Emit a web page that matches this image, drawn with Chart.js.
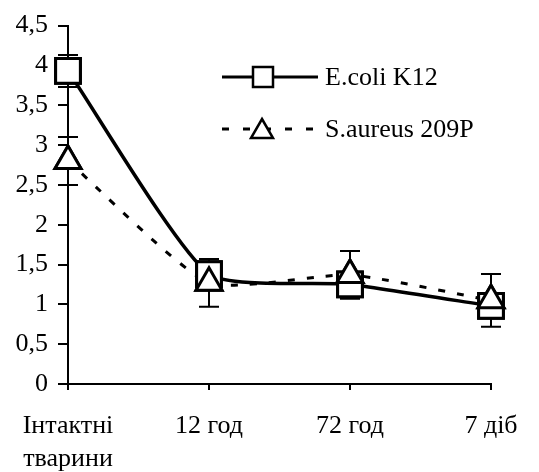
<!DOCTYPE html>
<html>
<head>
<meta charset="utf-8">
<script src="https://cdn.jsdelivr.net/npm/chart.js@4"></script>
<style>
  html, body { margin: 0; padding: 0; background: #fff; }
  #wrap { width: 539px; height: 472px; }
</style>
</head>
<body>
<div id="wrap"><canvas id="chart" width="539" height="472"></canvas></div>
<script>
const categories = [["Інтактні", "тварини"], "12 год", "72 год", "7 діб"];
const ecoliValues = [3.93, 1.38, 1.25, 0.98];
const ecoliErrors = [0.2, 0.12, 0.1, 0.1];
const aureusValues = [2.8, 1.27, 1.37, 1.05];
const aureusErrors = [0.3, 0.3, 0.3, 0.33];
const yTicks = [0, 0.5, 1, 1.5, 2, 2.5, 3, 3.5, 4, 4.5];

const FONT = "'Liberation Serif', 'Times New Roman', serif";

// error bars, then markers drawn again over them
const errorBars = {
    id: "errorBars",
    afterDatasetsDraw(chart) {
        const ctx = chart.ctx;
        const y = chart.scales.y;
        ctx.save();
        ctx.strokeStyle = "#000";
        ctx.lineWidth = 2;
        chart.data.datasets.forEach((ds, i) => {
            const meta = chart.getDatasetMeta(i);
            meta.data.forEach((pt, j) => {
                const v = ds.data[j], e = ds.errors[j];
                const top = y.getPixelForValue(v + e);
                const bot = y.getPixelForValue(v - e);
                ctx.beginPath();
                ctx.moveTo(pt.x, top); ctx.lineTo(pt.x, bot);
                ctx.moveTo(pt.x - 10, top); ctx.lineTo(pt.x + 10, top);
                ctx.moveTo(pt.x - 10, bot); ctx.lineTo(pt.x + 10, bot);
                ctx.stroke();
            });
        });
        ctx.restore();
        [0, 1].forEach(i => {
            const meta = chart.getDatasetMeta(i);
            meta.data.forEach(pt => pt.draw(ctx, undefined));
        });
    }
};

const legendBox = {
    id: "legendBox",
    afterDraw(chart) {
        const ctx = chart.ctx;
        ctx.save();
        ctx.strokeStyle = "#000";
        ctx.lineWidth = 3;
        // E.coli
        ctx.beginPath();
        ctx.moveTo(222, 77); ctx.lineTo(318, 77);
        ctx.stroke();
        ctx.fillStyle = "#fff";
        ctx.lineWidth = 2.5;
        ctx.fillRect(253, 67, 20, 20);
        ctx.strokeRect(253, 67, 20, 20);
        // S.aureus
        ctx.lineWidth = 3;
        ctx.setLineDash([7, 14]);
        ctx.beginPath();
        ctx.moveTo(222, 129); ctx.lineTo(318, 129);
        ctx.stroke();
        ctx.setLineDash([]);
        ctx.lineWidth = 2.5;
        ctx.beginPath();
        ctx.moveTo(262, 119); ctx.lineTo(273, 138); ctx.lineTo(251, 138); ctx.closePath();
        ctx.fill();
        ctx.stroke();
        ctx.fillStyle = "#000";
        ctx.font = "26px " + FONT;
        ctx.textBaseline = "middle";
        ctx.fillText("E.coli K12", 325, 78);
        ctx.fillText("S.aureus 209P", 325, 130);
        ctx.restore();
    }
};

function initChart() {
    const ctx = document.getElementById("chart");
    new Chart(ctx, {
        type: "line",
        data: {
            labels: categories,
            datasets: [
                {
                    label: "E.coli K12",
                    data: ecoliValues,
                    errors: ecoliErrors,
                    borderColor: "#000",
                    borderWidth: 3.5,
                    tension: 0.18,
                    pointStyle: "rect",
                    pointRadius: 17.5,
                    pointBackgroundColor: "#fff",
                    pointBorderColor: "#000",
                    pointBorderWidth: 3,
                    clip: false,
                    order: 1
                },
                {
                    label: "S.aureus 209P",
                    data: aureusValues,
                    errors: aureusErrors,
                    borderColor: "#000",
                    borderWidth: 3,
                    borderDash: [7, 12],
                    tension: 0.18,
                    pointStyle: "triangle",
                    pointRadius: 15,
                    pointBackgroundColor: "#fff",
                    pointBorderColor: "#000",
                    pointBorderWidth: 3,
                    clip: false,
                    order: 0
                }
            ]
        },
        options: {
            responsive: false,
            animation: false,
            layout: { padding: { left: 0, top: 24, right: 48, bottom: 0 } },
            plugins: { legend: { display: false }, tooltip: { enabled: false } },
            scales: {
                x: {
                    offset: false,
                    grid: { drawOnChartArea: false, color: "#000", tickLength: 6, lineWidth: 2 },
                    border: { color: "#000", width: 2 },
                    ticks: {
                        color: "#000",
                        font: { family: FONT, size: 26, lineHeight: 1.25 },
                        padding: 20,
                        maxRotation: 0,
                        autoSkip: false
                    },
                    afterFit(scale) { scale.height = 88; }
                },
                y: {
                    min: 0,
                    max: 4.5,
                    afterBuildTicks(scale) { scale.ticks = yTicks.map(v => ({ value: v })); },
                    grid: { drawOnChartArea: false, color: "#000", tickLength: 10, lineWidth: 2 },
                    border: { color: "#000", width: 2 },
                    ticks: {
                        color: "#000",
                        font: { family: FONT, size: 26 },
                        padding: 10,
                        callback: v => String(v).replace(".", ",")
                    },
                    afterFit(scale) { scale.width = 68; }
                }
            }
        },
        plugins: [errorBars, legendBox]
    });
}

initChart();
</script>
</body>
</html>
